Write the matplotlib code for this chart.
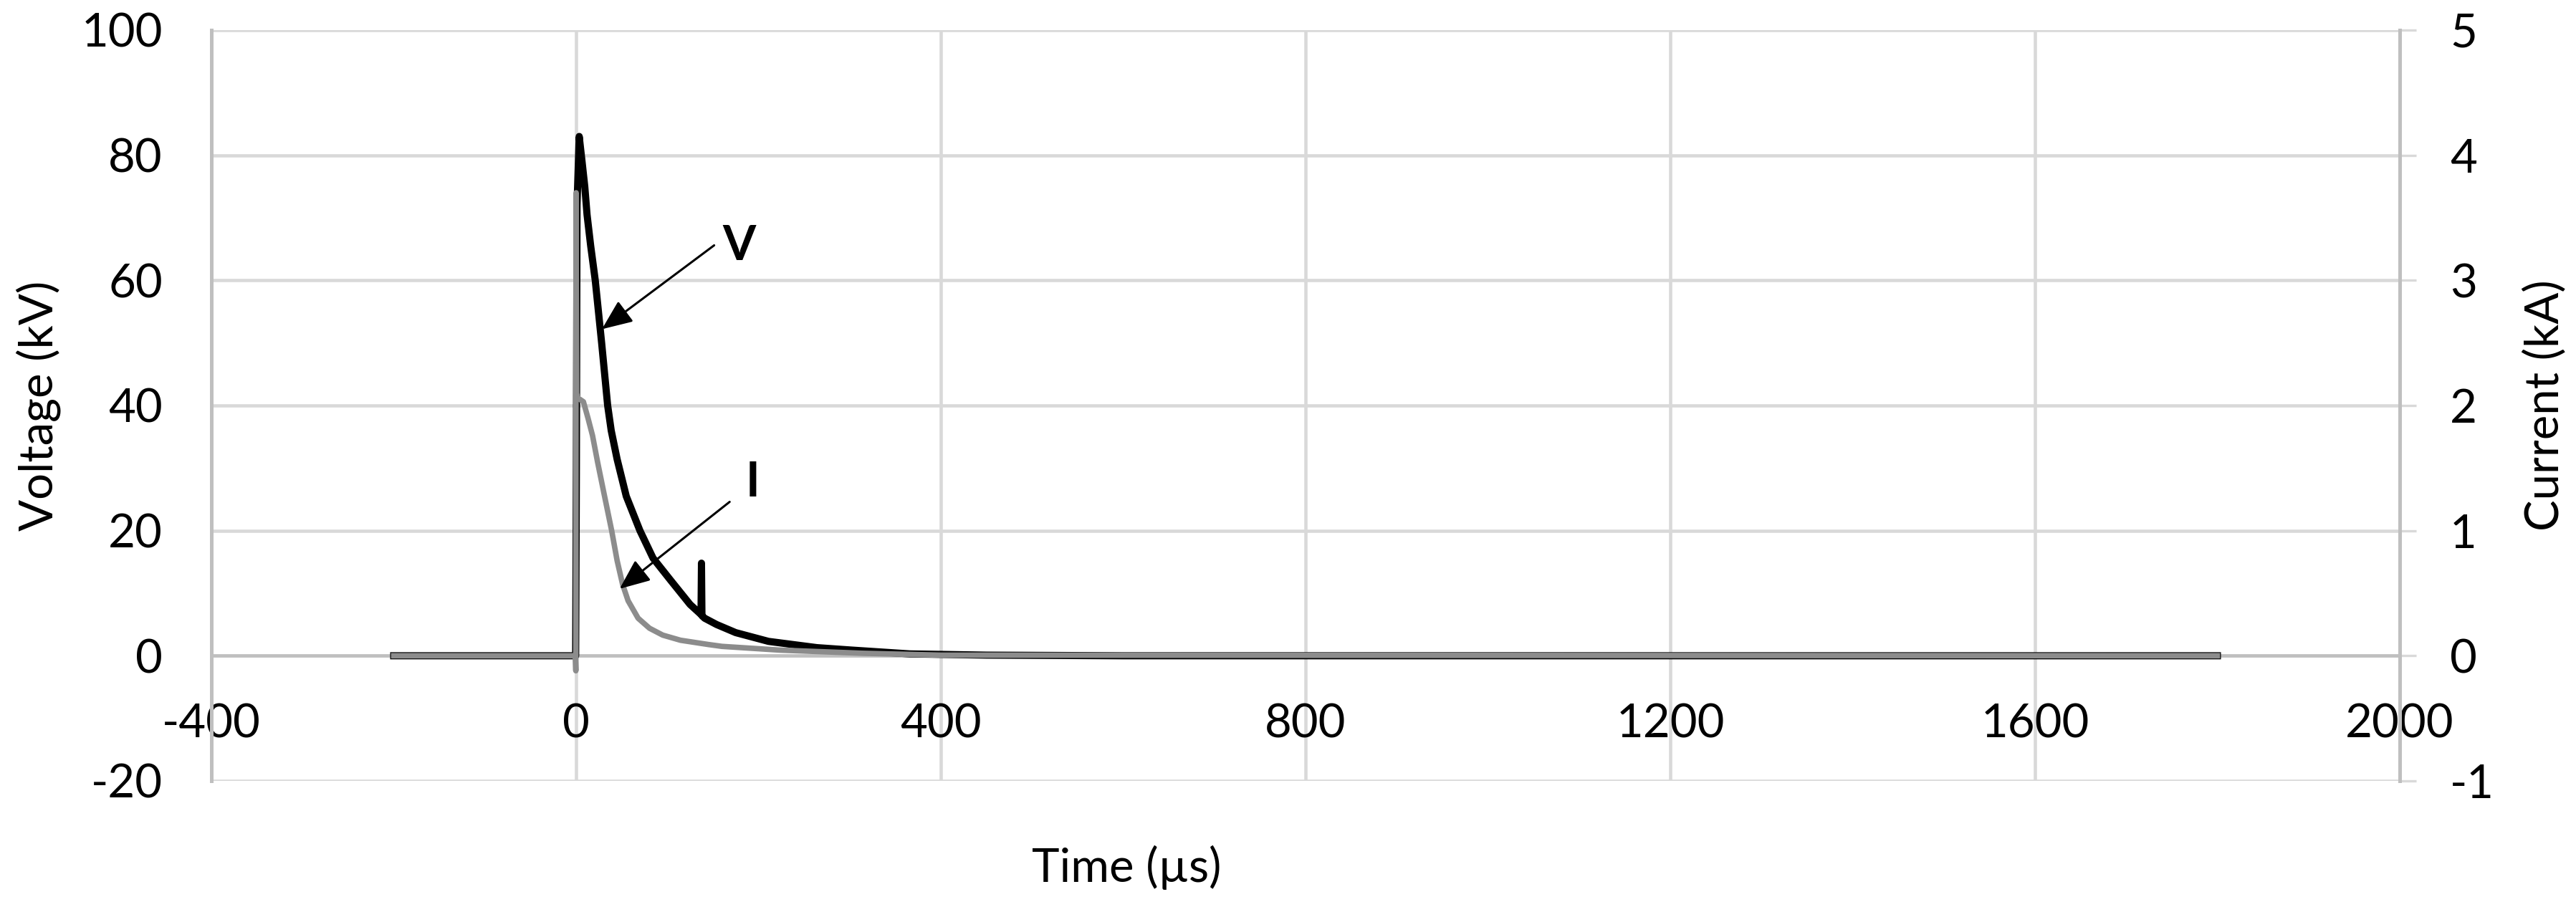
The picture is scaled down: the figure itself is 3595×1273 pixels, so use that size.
import matplotlib.pyplot as plt

# voltage trace (kV) vs time (us)
t_volt = [-200, -0.5, 0.3, 1.0, 3.4, 6.5, 9.5, 12, 16, 21, 28, 34.6, 38.5, 45, 55, 70,
          84.4, 104, 125, 137, 137.5, 138, 141, 154, 175, 211, 264, 303, 366, 450, 600, 1800]
volt = [0, 0, 30, 72, 83, 79, 75, 70.5, 65.5, 60, 50, 40, 36, 31.4, 25.5, 20,
        15.6, 12.0, 8.2, 6.6, 14.8, 6.4, 6.0, 5.0, 3.7, 2.3, 1.3, 0.9, 0.3, 0.1, 0, 0]

# current trace (kA) vs time (us)
t_curr = [-200, -0.8, -0.3, 0.0, 0.6, 1.5, 4, 8, 13, 18, 23.5, 30.5, 39, 45, 51, 57,
          68, 80.5, 95, 114.5, 145, 160, 224, 314, 400, 1800]
curr = [0, 0, -0.12, 3.7, 2.1, 2.06, 2.05, 2.03, 1.9, 1.76, 1.55, 1.3, 1.0, 0.76, 0.57, 0.44,
        0.30, 0.22, 0.165, 0.124, 0.09, 0.075, 0.045, 0.02, 0.005, 0]

x_ticks = [-400, 0, 400, 800, 1200, 1600, 2000]
v_ticks = [-20, 0, 20, 40, 60, 80, 100]
i_ticks = [-1, 0, 1, 2, 3, 4, 5]

W, H = 3595, 1273
plt.rcParams['font.family'] = ['Lato', 'DejaVu Sans']
plt.rcParams['axes.unicode_minus'] = False

fig = plt.figure(figsize=(W / 100, H / 100), dpi=100)
L, R, B, T = 295, 3349, 1090, 42
ax = fig.add_axes([L / W, 1 - B / H, (R - L) / W, (B - T) / H])
ax2 = ax.twinx()

grid_c = '#d9d9d9'
axis_c = '#bfbfbf'

ax.set_xlim(-400, 2000)
ax.set_ylim(-20, 100)
ax2.set_ylim(-1, 5)
ax.set_xticks(x_ticks)
ax.set_yticks(v_ticks)
ax2.set_yticks(i_ticks)

ax.grid(True, color=grid_c, lw=3.3)
ax.set_axisbelow(True)

ax.spines['top'].set_visible(False)
ax.spines['right'].set_visible(False)
ax.spines['left'].set_color(axis_c)
ax.spines['left'].set_linewidth(3.6)
ax.spines['bottom'].set_position(('data', 0))
ax.spines['bottom'].set_color(axis_c)
ax.spines['bottom'].set_linewidth(3.3)
for s in ['top', 'left', 'bottom']:
    ax2.spines[s].set_visible(False)
ax2.spines['right'].set_color(axis_c)
ax2.spines['right'].set_linewidth(3.6)

ax.tick_params(axis='x', length=0, pad=48, labelsize=47)
ax.tick_params(axis='y', length=0, pad=49, labelsize=47)
ax2.tick_params(axis='y', length=16.5, width=2.4, color=grid_c, direction='out',
                pad=34, labelsize=47)

ax.plot(t_volt, volt, color='black', lw=7.2, zorder=3)
ax2.plot(t_curr, curr, color='#8c8c8c', lw=5.5, zorder=3)

# arrows + labels
arrow = dict(arrowstyle='-|>,head_length=26,head_width=11', mutation_scale=1,
             color='black', lw=2.2, shrinkA=0, shrinkB=0)
ax2.annotate('', xy=(28.3, 52.2), xytext=(151.4, 65.6),
             xycoords=ax.transData, textcoords=ax.transData, arrowprops=arrow)
ax2.annotate('', xy=(47.7, 10.7), xytext=(168.4, 24.6),
             xycoords=ax.transData, textcoords=ax.transData, arrowprops=arrow)
ax2.text(179, 65.4, 'V', transform=ax.transData, ha='center', va='center',
         fontsize=48, fontweight='bold')
ax2.text(193.6, 27.6, 'I', transform=ax.transData, ha='center', va='center',
         fontsize=48, fontweight='bold')

fig.text(1572 / W, 1 - 1211 / H, 'Time (µs)', ha='center', va='center', fontsize=47)
fig.text(54 / W, 1 - 566 / H, 'Voltage (kV)', ha='center', va='center',
         rotation=90, fontsize=47)
fig.text(3551 / W, 1 - 566 / H, 'Current (kA)', ha='center', va='center',
         rotation=90, fontsize=47)

fig.savefig('out.png', dpi=100)
